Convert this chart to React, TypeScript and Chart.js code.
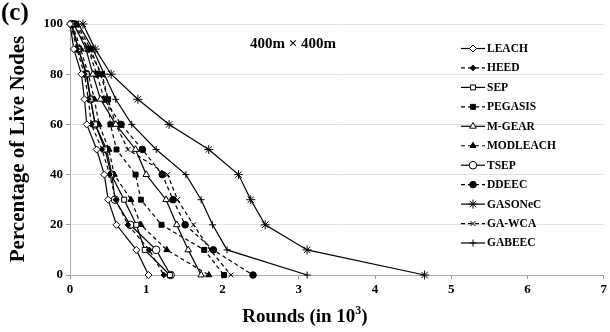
import React, { useEffect, useRef } from "react";
import { Chart, registerables } from "chart.js";
import { drawPoint } from "chart.js/helpers";

Chart.register(...registerables);

// Percentage of live nodes (y) levels shared by every series
const liveLevels = [100, 90, 80, 70, 60, 50, 40, 30, 20, 10, 0];

// Rounds (in 10^3) at which each level is reached
const leach = [0, 0.05, 0.15, 0.19, 0.22, 0.35, 0.45, 0.5, 0.61, 0.87, 1.03];
const heed = [0.01, 0.09, 0.19, 0.24, 0.28, 0.42, 0.52, 0.6, 0.76, 1.04, 1.23];
const sep = [0.02, 0.11, 0.22, 0.27, 0.33, 0.46, 0.54, 0.71, 0.87, 0.98, 1.31];
const pegasis = [0.04, 0.24, 0.42, 0.5, 0.53, 0.61, 0.86, 0.93, 1.2, 1.76, 2.02];
const mgear = [0.05, 0.21, 0.3, 0.4, 0.6, 0.86, 1.0, 1.26, 1.4, 1.55, 1.72];
const modleach = [0.03, 0.14, 0.24, 0.32, 0.38, 0.51, 0.58, 0.8, 0.93, 1.27, 1.82];
const tsep = [0.02, 0.11, 0.21, 0.27, 0.33, 0.48, 0.55, 0.59, 0.79, 1.13, 1.32];
const ddeec = [0.07, 0.24, 0.35, 0.45, 0.67, 0.95, 1.21, 1.35, 1.51, 1.88, 2.4];
const gasonec = [0.17, 0.33, 0.54, 0.89, 1.3, 1.82, 2.21, 2.37, 2.56, 3.11, 4.65];
const gawca = [0.09, 0.27, 0.4, 0.5, 0.6, 0.76, 1.28, 1.41, 1.62, 1.84, 2.11];
const gabeec = [0.11, 0.3, 0.45, 0.6, 0.81, 1.13, 1.52, 1.72, 1.87, 2.06, 3.11];

const seriesNames = ["LEACH", "HEED", "SEP", "PEGASIS", "M-GEAR", "MODLEACH", "TSEP", "DDEEC", "GASONeC", "GA-WCA", "GABEEC"];
const seriesValues = [leach, heed, sep, pegasis, mgear, modleach, tsep, ddeec, gasonec, gawca, gabeec];

const xTicks = [0, 1, 2, 3, 4, 5, 6, 7];
const yTicks = [0, 20, 40, 60, 80, 100];

const chartTitle = "400m \u00d7 400m";
const panelLabel = "(c)";
const xTitle = "Rounds (in 10";
const xTitleSup = "3";
const yTitle = "Percentage of Live Nodes";

// Styles (not data)
const styles = [
  { dash: [], pt: "rectRot", fill: "#fff", r: 3.5 },
  { dash: [4, 3], pt: "rectRot", fill: "#000", r: 2.8 },
  { dash: [], pt: "rect", fill: "#fff", r: 3.5 },
  { dash: [4, 3], pt: "rect", fill: "#000", r: 3.5 },
  { dash: [], pt: "triangle", fill: "#fff", r: 3.8 },
  { dash: [4, 3], pt: "triangle", fill: "#000", r: 3.5 },
  { dash: [], pt: "circle", fill: "#fff", r: 3.8 },
  { dash: [4, 3], pt: "circle", fill: "#000", r: 3.3 },
  { dash: [], pt: "star", fill: "#000", r: 4.5 },
  { dash: [4, 3], pt: "crossRot", fill: "#000", r: 3.5 },
  { dash: [], pt: "cross", fill: "#000", r: 3.5 },
];

const FONT = "'Liberation Serif', 'DejaVu Serif', serif";

const overlay = {
  id: "overlay",
  afterDraw(chart: any) {
    const ctx: CanvasRenderingContext2D = chart.ctx;
    ctx.save();
    ctx.fillStyle = "#000";
    // panel label
    ctx.font = `bold 25px ${FONT}`;
    ctx.textAlign = "left";
    ctx.textBaseline = "alphabetic";
    ctx.fillText(panelLabel, 1, 20);
    // chart title
    ctx.font = `bold 15px ${FONT}`;
    ctx.textAlign = "center";
    ctx.textBaseline = "middle";
    ctx.fillText(chartTitle, 293, 44);
    // y title
    ctx.save();
    ctx.translate(19, 149);
    ctx.rotate(-Math.PI / 2);
    ctx.font = `bold 21px ${FONT}`;
    ctx.textAlign = "center";
    ctx.textBaseline = "middle";
    ctx.fillText(yTitle, 0, 0);
    ctx.restore();
    // x title
    ctx.font = `bold 19px ${FONT}`;
    const w1 = ctx.measureText(xTitle).width;
    ctx.font = `bold 12px ${FONT}`;
    const w2 = ctx.measureText(xTitleSup).width;
    ctx.font = `bold 19px ${FONT}`;
    const w3 = ctx.measureText(")").width;
    const total = w1 + w2 + w3;
    const sx = 305 - total / 2;
    const by = 322;
    ctx.textAlign = "left";
    ctx.textBaseline = "alphabetic";
    ctx.fillText(xTitle, sx, by);
    ctx.font = `bold 12px ${FONT}`;
    ctx.fillText(xTitleSup, sx + w1, by - 8);
    ctx.font = `bold 19px ${FONT}`;
    ctx.fillText(")", sx + w1 + w2, by);

    // legend
    chart.data.datasets.forEach((ds: any, i: number) => {
      const st = styles[i];
      const y = 48.5 + i * 19.45;
      const x0 = 461;
      const x1 = 485;
      ctx.save();
      ctx.strokeStyle = "#000";
      ctx.lineWidth = 1.2;
      ctx.setLineDash(st.dash);
      ctx.beginPath();
      ctx.moveTo(x0, y);
      ctx.lineTo(x1, y);
      ctx.stroke();
      ctx.setLineDash([]);
      ctx.fillStyle = st.fill;
      ctx.strokeStyle = "#000";
      ctx.lineWidth = 1;
      drawPoint(ctx, { pointStyle: st.pt, radius: st.r, rotation: 0, borderWidth: 1 } as any, (x0 + x1) / 2, y);
      ctx.restore();
      ctx.fillStyle = "#000";
      ctx.font = `bold 11.5px ${FONT}`;
      ctx.textAlign = "left";
      ctx.textBaseline = "middle";
      ctx.fillText(ds.label, x1 + 2, y + 0.5);
    });
    ctx.restore();
  },
};

export default function App() {
  const ref = useRef<HTMLCanvasElement>(null);
  useEffect(() => {
    document.body.style.margin = "0";
    const canvas = ref.current!;
    const datasets = seriesNames.map((name, i) => ({
      label: name,
      data: seriesValues[i].map((x, j) => ({ x, y: liveLevels[j] })),
      borderColor: "#000",
      borderWidth: 1.2,
      borderDash: styles[i].dash,
      backgroundColor: styles[i].fill,
      pointStyle: styles[i].pt,
      pointRadius: styles[i].r,
      pointBorderWidth: 1,
      pointBorderColor: "#000",
      pointBackgroundColor: styles[i].fill,
      tension: 0,
      fill: false,
      clip: false as any,
    }));
    const chart = new Chart(canvas, {
      type: "line",
      data: { datasets },
      options: {
        responsive: false,
        animation: false,
        layout: { padding: { top: 24, right: 0, left: 0, bottom: 0 } },
        plugins: { legend: { display: false }, tooltip: { enabled: false } },
        scales: {
          x: {
            type: "linear",
            min: 0,
            max: 7,
            afterBuildTicks: (s: any) => {
              s.ticks = xTicks.map((v) => ({ value: v }));
            },
            afterFit: (s: any) => {
              s.height = 57;
            },
            grid: { drawOnChartArea: false, color: "#999", tickLength: 4 },
            border: { color: "#aaa", width: 1 },
            ticks: { color: "#000", font: { family: FONT, size: 13, weight: "bold" }, padding: 3, maxRotation: 0 },
          },
          y: {
            type: "linear",
            min: 0,
            max: 100,
            afterBuildTicks: (s: any) => {
              s.ticks = yTicks.map((v) => ({ value: v }));
            },
            afterFit: (s: any) => {
              s.width = 70;
            },
            grid: { color: "#e2e2e2", tickLength: 4, tickColor: "#999" },
            border: { color: "#aaa", width: 1 },
            ticks: { color: "#000", font: { family: FONT, size: 13, weight: "bold" }, padding: 3 },
          },
        },
      },
      plugins: [overlay],
    });
    return () => chart.destroy();
  }, []);
  return (
    <div style={{ width: 610, height: 332, overflow: "hidden", background: "#fff" }}>
      <canvas ref={ref} width={610} height={332} style={{ display: "block" }} />
    </div>
  );
}
